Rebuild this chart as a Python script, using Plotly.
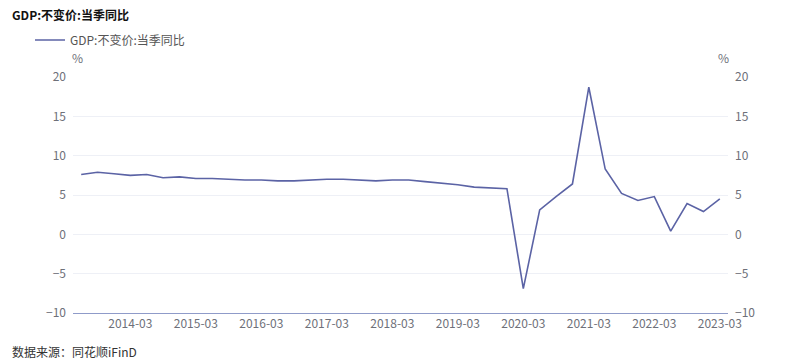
import plotly.graph_objects as go

quarters = []
for y in range(2013, 2024):
    for m in ["03", "06", "09", "12"]:
        quarters.append(f"{y}-{m}")
quarters = quarters[quarters.index("2013-06"):quarters.index("2023-03") + 1]

gdp_yoy = [7.6, 7.9, 7.7,
           7.5, 7.6, 7.2, 7.3,
           7.1, 7.1, 7.0, 6.9,
           6.9, 6.8, 6.8, 6.9,
           7.0, 7.0, 6.9, 6.8,
           6.9, 6.9, 6.7, 6.5,
           6.3, 6.0, 5.9, 5.8,
           -6.9, 3.1, 4.8, 6.4,
           18.7, 8.3, 5.2, 4.3,
           4.8, 0.4, 3.9, 2.9,
           4.5]

tick_labels = [f"{y}-03" for y in range(2014, 2024)]
series_name = "GDP:不变价:当季同比"

FONT = "Noto Sans CJK SC"
line_color = "#5b63a5"
tick_color = "#6e7079"

# page has an 8px body margin; figure is offset by (8, 8)
W, H = 780, 356
PW, PH = 655, 236

fig = go.Figure()
fig.add_trace(go.Scatter(
    x=quarters, y=gdp_yoy, mode="lines", name=series_name,
    line=dict(color=line_color, width=1.6), yaxis="y"))
fig.add_trace(go.Scatter(
    x=quarters, y=gdp_yoy, mode="lines", showlegend=False, hoverinfo="skip",
    line=dict(color="rgba(0,0,0,0)", width=0), yaxis="y2"))

fig.update_layout(
    width=W, height=H,
    margin=dict(l=65, r=60, t=69, b=51, autoexpand=False),
    paper_bgcolor="white", plot_bgcolor="white",
    font=dict(family=FONT, size=12, color=tick_color),
    showlegend=True,
    legend=dict(xref="container", yref="container",
                x=22 / W, y=1 - 32 / H, yanchor="middle", xanchor="left",
                orientation="h", font=dict(size=12, color="#555"),
                itemwidth=30, bgcolor="rgba(0,0,0,0)"),
    xaxis=dict(type="category", range=[-0.5, len(quarters) - 0.5],
               tickmode="array", tickvals=tick_labels, ticktext=tick_labels,
               showgrid=False, showline=True, linecolor="#8f9bc9", linewidth=1,
               ticks="", tickfont=dict(size=12, color=tick_color), zeroline=False),
    yaxis=dict(range=[-10, 20], dtick=5, showgrid=True, gridcolor="#eef0f6",
               zeroline=False, ticks="", tickfont=dict(size=12, color=tick_color),
               ticklabelstandoff=6),
    yaxis2=dict(range=[-10, 20], dtick=5, overlaying="y", side="right",
                showgrid=False, zeroline=False, ticks="",
                tickfont=dict(size=12, color=tick_color), ticklabelstandoff=6),
    annotations=[
        dict(text="<b>GDP:不变价:当季同比</b>", xref="paper", yref="paper",
             x=-63 / PW, y=1 + (77 - 14) / PH, xanchor="left",
             yanchor="middle", showarrow=False,
             font=dict(size=12, color="#111", family=FONT)),
        dict(text="%", xref="paper", yref="paper", x=4 / PW, y=1 + (77 - 57) / PH,
             xanchor="center", yanchor="middle", showarrow=False,
             font=dict(size=12, color=tick_color)),
        dict(text="%", xref="paper", yref="paper", x=650 / PW, y=1 + (77 - 57) / PH,
             xanchor="center", yanchor="middle", showarrow=False,
             font=dict(size=12, color=tick_color)),
        dict(text="数据来源：同花顺iFinD", xref="paper", yref="paper",
             x=-63 / PW, y=-(351 - 313) / PH, xanchor="left", yanchor="middle",
             showarrow=False, font=dict(size=12, color="#333")),
    ],
)

fig.write_html("out.html")
